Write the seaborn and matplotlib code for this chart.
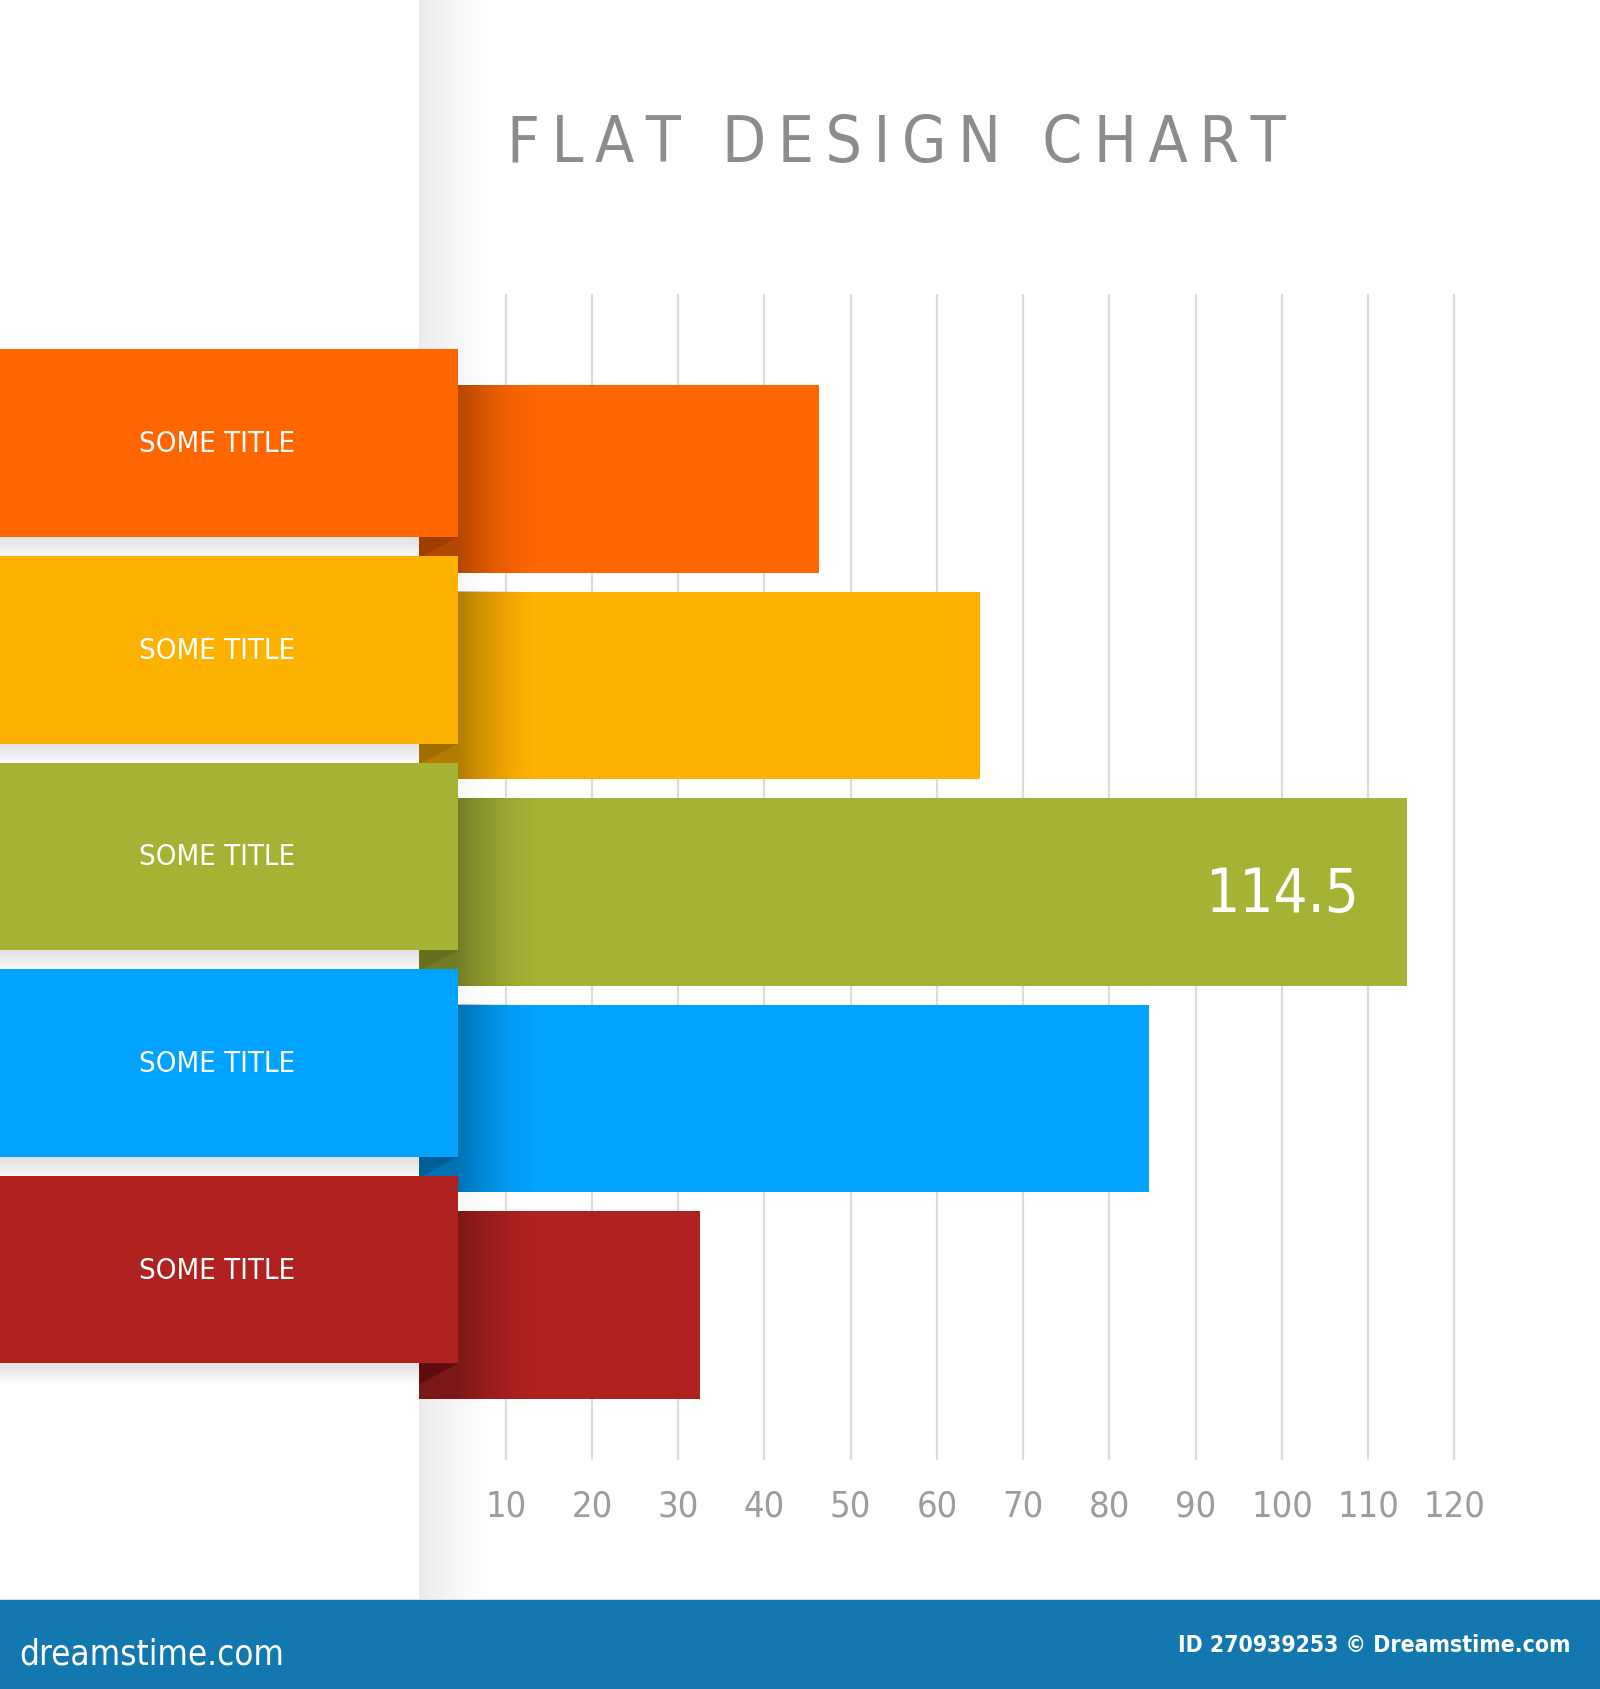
import numpy as np
import pandas as pd
import matplotlib
matplotlib.use('Agg')
import matplotlib.pyplot as plt
import seaborn as sns
from matplotlib.patches import Rectangle, Polygon

# chart data
categories = ['A', 'B', 'C', 'D', 'E']
titles = ['SOME TITLE', 'SOME TITLE', 'SOME TITLE', 'SOME TITLE', 'SOME TITLE']
values = [46.3, 65.0, 114.5, 84.6, 32.5]
bar_colors = ['#FF6600', '#FDB100', '#A5B233', '#00A3FF', '#B02220']
fold_colors = ['#9E3F00', '#A06E00', '#66701C', '#005E96', '#5E0C0C']
ticks = [10, 20, 30, 40, 50, 60, 70, 80, 90, 100, 110, 120]
highlight_idx = 2
highlight_label = '114.5'

# pixel layout (full 1600x1690 image)
W, H = 1600, 1690
X0 = 419.4          # pixel of value 0
PX_UNIT = 8.6256    # pixels per value unit
Y0 = 479.8          # pixel centre of first bar
STEP = 206.6        # pixels between bars


def px(p):
    return (p - X0) / PX_UNIT


def py(p):
    return (p - Y0) / STEP


sns.set_theme(style='white')
plt.rcParams['font.family'] = ['DejaVu Sans']

narrow = dict(family='DejaVu Sans', fontstretch='condensed')

fig = plt.figure(figsize=(16, 16.9), dpi=100)
ax = fig.add_axes([0, 0, 1, 1])

df = pd.DataFrame({'cat': categories, 'value': values})
bw = 0.908
sns.barplot(data=df, x='value', y='cat', hue='cat', palette=bar_colors,
            legend=False, width=bw, saturation=1, ax=ax, zorder=2)
for p in ax.patches:
    p.set_linewidth(0)

# vertical grid
ax.vlines(ticks, py(295), py(1461), color='#dcdcdc', lw=1.6, zorder=0.8)

# shadow of the left panel edge
grad = np.zeros((1, 200, 4))
grad[0, :, 3] = np.linspace(0.14, 0.0, 200) ** 1.3
ax.imshow(grad, extent=(0, 9, py(1600), py(0)), aspect='auto', zorder=0.5,
          interpolation='bilinear')

tab_off = 0.172
tab_right = px(458.2)
for i, (v, c, fc, t) in enumerate(zip(values, bar_colors, fold_colors, titles)):
    top = i - bw / 2
    bottom = i + bw / 2
    # shading on the bar start
    sh = np.zeros((1, 300, 4))
    xs = np.linspace(0, 14, 300)
    a = np.where(xs < tab_right, 0.3, 0.3 * np.clip(1 - (xs - tab_right) / (14 - tab_right), 0, 1) ** 1.6)
    sh[0, :, 3] = a
    ax.imshow(sh, extent=(0, min(14, v), bottom, top), aspect='auto', zorder=2.5,
              interpolation='bilinear')
    # label tab
    tt = top - tab_off
    tb = bottom - tab_off
    ax.add_patch(Rectangle((px(0), tt), tab_right - px(0), bw, color=c, lw=0, zorder=4))
    # fold under the tab
    ax.add_patch(Polygon([(0, tb), (tab_right, tb), (0, tb + 0.1)], closed=True,
                         color=fc, lw=0, zorder=3.5))
    # soft shadow under the tab on the left panel
    g = np.zeros((12, 1, 4))
    g[:, 0, 3] = np.linspace(0.12, 0.02, 12)
    ax.imshow(g, extent=(px(0), 0, tb + 0.1, tb), aspect='auto', zorder=1,
              interpolation='bilinear')
    ax.text(px(217), i - tab_off, t, color='white', fontsize=21,
            ha='center', va='center', zorder=5, **narrow)

ax.text(values[highlight_idx] - 5.6, highlight_idx + 0.01, highlight_label,
        color='white', fontsize=43, ha='right', va='center', zorder=5, **narrow)

for t in ticks:
    ax.text(t, py(1507), str(t), color='#9c9c9c', fontsize=26,
            ha='center', va='center', **narrow)

ax.set_xlim(px(0), px(W))
ax.set_ylim(py(H), py(0))
ax.set_axis_off()

ts = '\u2009'
title = ' '.join(ts.join(w) for w in ['FLAT', 'DESIGN', 'CHART']).replace(' ', ts + ' ' + ts)
fig.text(507 / W, 1 - 144 / H, title,
         fontsize=46, color='#8c8c8c', ha='left', va='center', **narrow)

# bottom banner
fig.patches.append(Rectangle((0, 0), 1, 89 / H, transform=fig.transFigure,
                             color='#1478B0', zorder=0))
fig.text(19 / W, 1 - 1655 / H, 'dreamstime.com', color='white', fontsize=25,
         ha='left', va='center', **narrow)
fig.text(1571 / W, 1 - 1646 / H, 'ID 270939253 \u00a9 Dreamstime.com', color='white',
         fontsize=16.5, fontweight='bold', ha='right', va='center', **narrow)

fig.savefig('out.png', dpi=100)
